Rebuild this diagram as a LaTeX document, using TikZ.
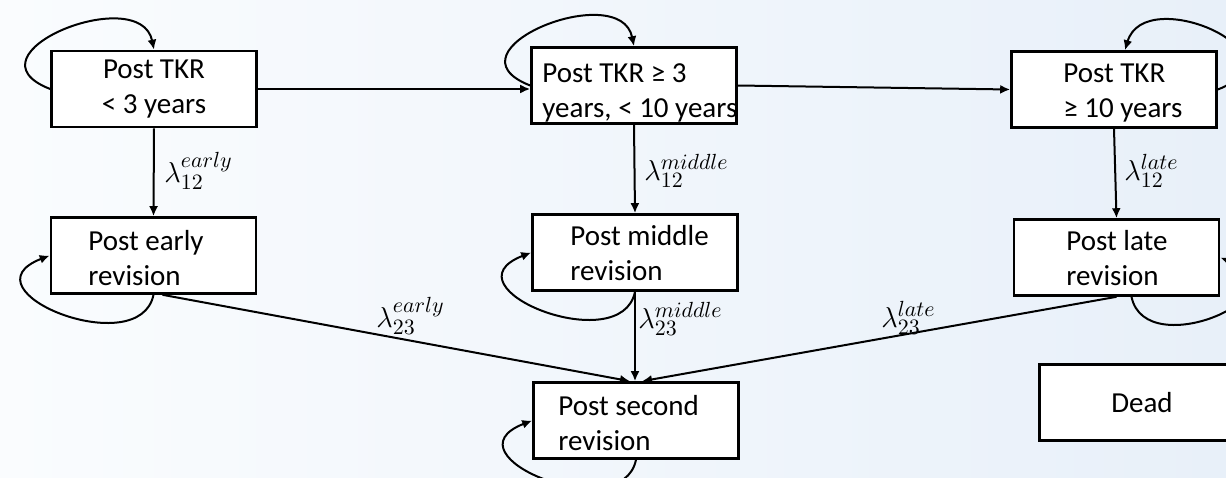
\documentclass[tikz,border=0pt]{standalone}
\usepackage{fontspec}
\setmainfont{Carlito}
\usetikzlibrary{arrows.meta}
\definecolor{bgL}{HTML}{FAFCFE}
\definecolor{bgM}{HTML}{F5F8FC}
\definecolor{bgR}{HTML}{E8F0F9}
\begin{document}
\begin{tikzpicture}[x=0.5pt,y=-0.5pt,
  box/.style={draw=black, line width=1.3pt, fill=white, minimum width=102.5pt, minimum height=38pt, inner sep=0pt,
    font=\fontsize{14.5}{17.5}\selectfont, align=center},
  txt/.style={font=\fontsize{14.5}{17.5}\selectfont, align=left, inner sep=0pt, anchor=north west},
  conn/.style={line width=1pt, -{Latex[length=5pt,width=4.5pt]}},
  lab/.style={font=\fontsize{15.5}{18}\selectfont, inner sep=0pt, anchor=west}]
\useasboundingbox (0,0) rectangle (1226,477);
\clip (0,0) rectangle (1226,477);
\shade[left color=bgL, middle color=bgM, right color=bgR] (0,0) rectangle (1226,477);

% boxes
\node[box] (A) at (154,89) {Post TKR\\< 3 years};
\node[box] (B) at (634,85.5) {};
\node[box] (C) at (1114,89.5) {};
\node[box] (D) at (153.5,255.5) {};
\node[box] (E) at (635,252.5) {};
\node[box] (F) at (636,420.5) {};
\node[box] (G) at (1116.5,257.5) {};
\node[box] (H) at (1142,402.5) {Dead};

% texts
\node[txt] (tB) at (542,63) {Post TKR ≥ 3\\years, < 10 years};
\node[txt] (tC) at (1063,63) {Post TKR\\≥ 10 years};
\node[txt] (tD) at (88,230) {Post early\\revision};
\node[txt] (tE) at (570,225) {Post middle\\revision};
\node[txt] (tF) at (558,395) {Post second\\revision};
\node[txt] (tG) at (1066,230) {Post late\\revision};

% horizontal / vertical transitions
\draw[conn] (A.east) -- (A.east -| B.west);
\draw[conn] (B.east) -- (C.west);
\draw[conn] (A.south) -- (D.north);
\draw[conn] (B.south) -- (E.north);
\draw[conn] (C.south) -- (G.north);
\draw[conn] ([xshift=4.5pt]D.south) -- ([xshift=-3pt]F.north);
\draw[conn] (E.south) -- (E.south |- F.north);
\draw[conn] (G.south) -- ([xshift=3pt]F.north);

% self loops
\draw[conn] (A.west) .. controls +(-90,-35) and +(-14,-68) .. (A.north);
\draw[conn] (B.west) .. controls +(-90,-35) and +(-14,-68) .. (B.north);
\draw[conn] (C.east) .. controls +(90,-35) and +(20,-68) .. ([xshift=5.5pt]C.north);
\draw[conn] (D.south) .. controls +(-14,68) and +(-90,35) .. (D.west);
\draw[conn] (E.south) .. controls +(-14,68) and +(-90,35) .. (E.west);
\draw[conn] (F.south) .. controls +(-14,68) and +(-90,35) .. (F.west);
\draw[conn] ([xshift=7.5pt]G.south) .. controls +(14,68) and +(90,35) .. (G.east);

% labels
\node[lab] (l12e) at (164,171) {$\lambda_{12}^{early}$};
\node[lab] (l12m) at (644,171) {$\lambda_{12}^{middle}$};
\node[lab] (l12l) at (1124,171) {$\lambda_{12}^{late}$};
\node[lab] (l23e) at (376,316) {$\lambda_{23}^{early}$};
\node[lab] (l23m) at (638,319) {$\lambda_{23}^{middle}$};
\node[lab] (l23l) at (881,318) {$\lambda_{23}^{late}$};
\end{tikzpicture}
\end{document}
